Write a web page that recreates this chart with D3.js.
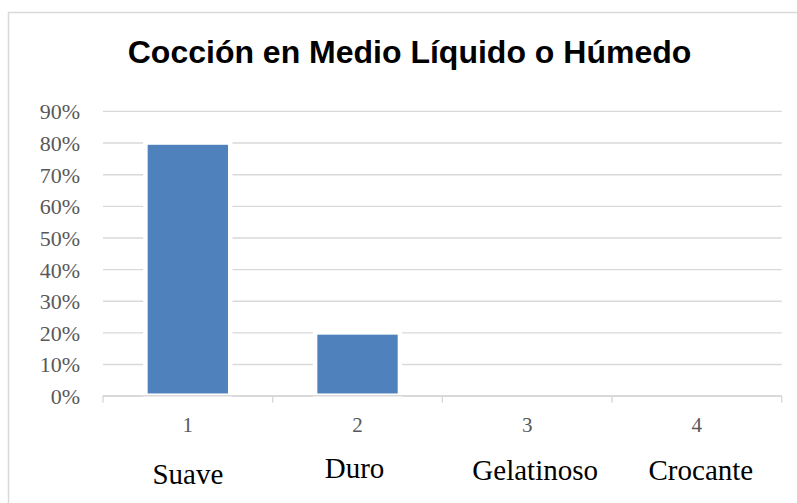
<!DOCTYPE html>
<html>
<head>
<meta charset="utf-8">
<script src="https://d3js.org/d3.v7.min.js"></script>
<style>
  body { margin: 0; background: #fff; }
  svg { display: block; }
  .serif { font-family: "Liberation Serif", "Times New Roman", Tinos, "DejaVu Serif", serif; }
</style>
</head>
<body>
<script>
// DATA

var categories = ["1", "2", "3", "4"];
var values = [0.80, 0.20, 0, 0];
var categoryNames = ["Suave", "Duro", "Gelatinoso", "Crocante"];
var yTicks = [0, 0.1, 0.2, 0.3, 0.4, 0.5, 0.6, 0.7, 0.8, 0.9];
var chartTitle = "Cocción en Medio Líquido o Húmedo";

// small hand nudges for the name labels (they sit in loose text boxes)
var nameNudgeX = [0, -3, 8, 4];
var nameBaseline = [484, 478, 480, 480];

// CHART STRUCTURE

var svgWidth = 797;
var svgHeight = 503;

var plot = {left: 103, right: 781.7, top: 110.9, bottom: 395.7};

var svg = d3.select("body")
  .append("svg")
  .attr("width", svgWidth)
  .attr("height", svgHeight);

// OUTER BORDER

svg.append("rect")
  .attr("x", 8.5)
  .attr("y", 12.5)
  .attr("width", 820)
  .attr("height", 520)
  .attr("fill", "#fff")
  .attr("stroke", "#d9d9d9")
  .attr("stroke-width", 1.5);

// TITLE

svg.append("text")
  .attr("x", 409.5)
  .attr("y", 63)
  .attr("text-anchor", "middle")
  .style("font-family", "'Liberation Sans', Arial, sans-serif")
  .style("font-weight", "bold")
  .style("font-size", "32px")
  .attr("fill", "#000")
  .text(chartTitle);

// SCALES

var xScale = d3.scaleBand()
  .domain(categories)
  .range([plot.left, plot.right])
  .paddingInner(0.5)
  .paddingOuter(0.25);

var yScale = d3.scaleLinear()
  .domain([0, 0.9])
  .range([plot.bottom, plot.top]);

var step = xScale.step();

// Y AXIS + GRIDLINES

var yAxis = d3.axisLeft(yScale)
  .tickValues(yTicks)
  .tickFormat(d3.format(".0%"))
  .tickSize(-(plot.right - plot.left))
  .tickPadding(23);

var yGroup = svg.append("g")
  .attr("transform", `translate(${plot.left}, 0)`)
  .call(yAxis);

yGroup.attr("font-family", null).attr("font-size", null);
yGroup.select(".domain").remove();
yGroup.selectAll(".tick line")
  .attr("stroke", "#d9d9d9")
  .attr("stroke-width", 1.4);
yGroup.selectAll(".tick text")
  .attr("class", "serif")
  .attr("fill", "#595959")
  .attr("dy", "0.36em")
  .style("font-size", "22px");

// BARS

svg.append("g")
  .selectAll("rect")
  .data(values)
  .enter()
  .append("rect")
  .attr("x", (d, i) => xScale(categories[i]))
  .attr("y", d => yScale(d))
  .attr("width", xScale.bandwidth())
  .attr("height", d => plot.bottom - yScale(d))
  .attr("fill", "#4f81bd")
  .attr("stroke", "#fff")
  .attr("stroke-width", d => d > 0 ? 4.5 : 0);

// X AXIS LINE + BOUNDARY TICKS

var xLine = svg.append("g");

xLine.append("line")
  .attr("x1", plot.left)
  .attr("x2", plot.right)
  .attr("y1", plot.bottom)
  .attr("y2", plot.bottom)
  .attr("stroke", "#d9d9d9")
  .attr("stroke-width", 1.4);

xLine.selectAll(".bound")
  .data(d3.range(categories.length + 1))
  .enter()
  .append("line")
  .attr("class", "bound")
  .attr("x1", i => plot.left + i * step)
  .attr("x2", i => plot.left + i * step)
  .attr("y1", plot.bottom)
  .attr("y2", plot.bottom + 7)
  .attr("stroke", "#d9d9d9")
  .attr("stroke-width", 1.4);

// CATEGORY NUMBERS

var xAxis = d3.axisBottom(xScale)
  .tickSize(0)
  .tickPadding(21.4);

var xGroup = svg.append("g")
  .attr("transform", `translate(0, ${plot.bottom})`)
  .call(xAxis);

xGroup.attr("font-family", null).attr("font-size", null);
xGroup.select(".domain").remove();
xGroup.selectAll(".tick text")
  .attr("class", "serif")
  .attr("fill", "#595959")
  .style("font-size", "21px");

// CATEGORY NAMES

svg.append("g")
  .selectAll("text")
  .data(categoryNames)
  .enter()
  .append("text")
  .attr("class", "serif")
  .attr("x", (d, i) => xScale(categories[i]) + xScale.bandwidth() / 2 + nameNudgeX[i])
  .attr("y", (d, i) => nameBaseline[i])
  .attr("text-anchor", "middle")
  .attr("fill", "#000")
  .style("font-size", "29px")
  .text(d => d);
</script>
</body>
</html>
